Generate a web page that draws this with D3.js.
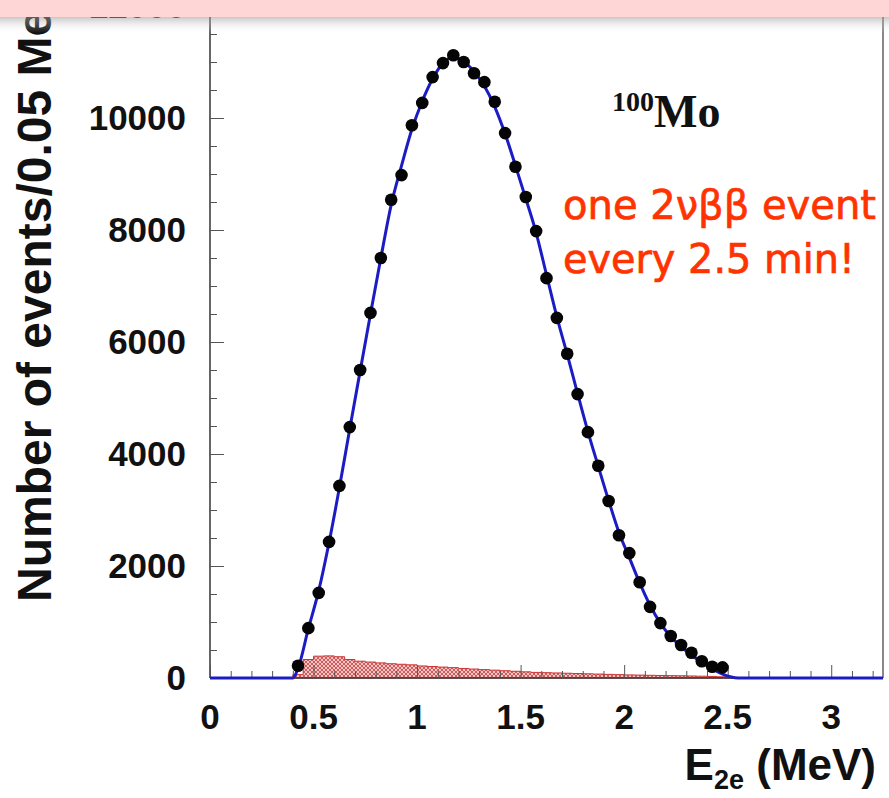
<!DOCTYPE html>
<html>
<head>
<meta charset="utf-8">
<script src="https://cdn.jsdelivr.net/npm/d3@7"></script>
<style>
  html, body { margin: 0; padding: 0; background: #fff; }
  svg { display: block; }
</style>
</head>
<body>
<svg id="chart" width="889" height="798"></svg>
<script>
// Measured 2e energy sum spectrum, 100Mo (0.05 MeV bins, bin centres in MeV)
const binE = [0.425,0.475,0.525,0.575,0.625,0.675,0.725,0.775,0.825,0.875,
              0.925,0.975,1.025,1.075,1.125,1.175,1.225,1.275,1.325,1.375,
              1.425,1.475,1.525,1.575,1.625,1.675,1.725,1.775,1.825,1.875,
              1.925,1.975,2.025,2.075,2.125,2.175,2.225,2.275,2.325,2.375,
              2.425,2.475];
const events = [220,890,1520,2430,3430,4480,5500,6520,7500,8540,
                8980,9870,10270,10730,10980,11120,11000,10800,10640,10290,
                9730,9130,8590,7980,7140,6430,5790,5070,4390,3790,
                3160,2550,2230,1710,1270,980,750,590,450,300,
                200,190];

// 2νββ simulation curve
const fitE = [0, 0.40, 0.425,0.475,0.525,0.575,0.625,0.675,0.725,0.775,0.825,0.875,
              0.925,0.975,1.025,1.075,1.125,1.175,1.225,1.275,1.325,1.375,
              1.425,1.475,1.525,1.575,1.625,1.675,1.725,1.775,1.825,1.875,
              1.925,1.975,2.025,2.075,2.125,2.175,2.225,2.275,2.325,2.375,
              2.425,2.475,2.55,2.62,3.25];
const fitN = [0, 0, 170,880,1560,2420,3400,4450,5480,6500,7500,8450,
              9150,9800,10300,10700,10980,11080,11010,10830,10570,10200,
              9720,9150,8560,7950,7200,6450,5780,5080,4400,3780,
              3170,2600,2150,1700,1300,980,740,560,410,280,
              160,70,0,0,0];

// Background histogram (bin low edges, counts)
const bkgLow = [0.40,0.45,0.50,0.55,0.60,0.65,0.70,0.75,0.80,0.85,0.90,0.95,
                1.00,1.05,1.10,1.15,1.20,1.25,1.30,1.35,1.40,1.45,1.50,1.55,
                1.60,1.65,1.70,1.75,1.80,1.85,1.90,1.95,2.00,2.05,2.10,2.15,
                2.20,2.25,2.30,2.35,2.40,2.45,2.50];
const bkgN = [60,330,390,395,380,330,300,285,270,255,245,235,
              215,205,195,185,170,160,150,140,130,120,110,100,
              95,90,85,80,75,70,65,60,55,52,48,45,
              42,40,36,32,28,22,10];

const xTicks = [0, 0.5, 1, 1.5, 2, 2.5, 3];
const xTickLabels = ["0", "0.5", "1", "1.5", "2", "2.5", "3"];
const yTicks = [0, 2000, 4000, 6000, 8000, 10000, 12000];
const yTickLabels = ["0", "2000", "4000", "6000", "8000", "10000", "12000"];

const svg = d3.select("#chart");
const W = 889, H = 798;
const left = 210, right = 883, bottom = 678;

const x = d3.scaleLinear().domain([0, 3.25]).range([left, right]);
const y = d3.scaleLinear().domain([0, 12000]).range([bottom, 6]);
const yTop = y(12800);

svg.append("rect").attr("width", W).attr("height", H).attr("fill", "#fff");

const defs = svg.append("defs");
const pat = defs.append("pattern")
  .attr("id", "hatch").attr("patternUnits", "userSpaceOnUse")
  .attr("width", 4).attr("height", 4);
pat.append("rect").attr("width", 4).attr("height", 4).attr("fill", "#f2c4c4");
pat.append("path").attr("d", "M0,0 L4,4 M4,0 L0,4")
  .attr("stroke", "#c85050").attr("stroke-width", 0.9);

const shadow = defs.append("linearGradient").attr("id", "shadow")
  .attr("x1", 0).attr("y1", 0).attr("x2", 0).attr("y2", 1);
shadow.append("stop").attr("offset", 0).attr("stop-color", "#999").attr("stop-opacity", 0.55);
shadow.append("stop").attr("offset", 1).attr("stop-color", "#fff").attr("stop-opacity", 0);

// background histogram
const bkgArea = d3.area()
  .x(d => x(d[0])).y0(y(0)).y1(d => y(d[1]))
  .curve(d3.curveStepAfter);
const bkgPts = bkgLow.map((e, i) => [e, bkgN[i]]);
bkgPts.push([bkgLow[bkgLow.length - 1] + 0.05, 0]);
svg.append("path").datum(bkgPts)
  .attr("d", bkgArea)
  .attr("fill", "url(#hatch)")
  .attr("stroke", "#cc3333").attr("stroke-width", 1);

// axes frame
svg.append("line").attr("x1", left).attr("x2", left).attr("y1", yTop).attr("y2", bottom)
  .attr("stroke", "#333").attr("stroke-width", 1.5);
svg.append("line").attr("x1", right).attr("x2", right).attr("y1", yTop).attr("y2", bottom)
  .attr("stroke", "#888").attr("stroke-width", 2);
svg.append("line").attr("x1", left).attr("x2", right).attr("y1", bottom).attr("y2", bottom)
  .attr("stroke", "#333").attr("stroke-width", 1.5);

// x ticks (inward)
const xAxis = d3.axisTop(x).tickValues(d3.range(0, 3.25, 0.1)).tickSize(7).tickFormat("");
const gx = svg.append("g").attr("transform", `translate(0,${bottom})`).call(xAxis);
gx.select(".domain").remove();
gx.selectAll(".tick line").attr("stroke", "#555").attr("stroke-width", 1)
  .attr("y2", d => Math.abs(Math.round(d * 10) % 5) === 0 ? -13 : -7);

// y ticks (inward)
const yAxis = d3.axisRight(y).tickValues(d3.range(0, 12001, 500)).tickSize(7).tickFormat("");
const gy = svg.append("g").attr("transform", `translate(${left},0)`).call(yAxis);
gy.select(".domain").remove();
gy.selectAll(".tick line").attr("stroke", "#555").attr("stroke-width", 1)
  .attr("x2", d => d % 2000 === 0 ? 14 : 7);

// tick labels
const tickFont = "'Liberation Sans', Arial, Helvetica, sans-serif";
svg.append("g").selectAll("text").data(xTicks).join("text")
  .attr("x", d => x(d)).attr("y", 729)
  .attr("text-anchor", "middle")
  .attr("font-family", tickFont).attr("font-weight", "bold").attr("font-size", 35)
  .attr("fill", "#111")
  .text((d, i) => xTickLabels[i]);
svg.append("g").selectAll("text").data(yTicks).join("text")
  .attr("x", 186).attr("y", d => y(d) + 12)
  .attr("text-anchor", "end")
  .attr("font-family", tickFont).attr("font-weight", "bold").attr("font-size", 35)
  .attr("fill", "#111")
  .text((d, i) => yTickLabels[i]);

// simulation curve
const fitLine = d3.line().x(d => x(d[0])).y(d => y(d[1])).curve(d3.curveMonotoneX);
svg.append("path").datum(fitE.map((e, i) => [e, fitN[i]]))
  .attr("d", fitLine).attr("fill", "none")
  .attr("stroke", "#1c1cc4").attr("stroke-width", 3);

// data points
svg.append("g").selectAll("circle").data(binE).join("circle")
  .attr("cx", d => x(d)).attr("cy", (d, i) => y(events[i]))
  .attr("r", 6.3).attr("fill", "#050505");

// axis titles
svg.append("text")
  .attr("transform", "translate(51,602) rotate(-90)")
  .attr("font-family", tickFont).attr("font-weight", "bold").attr("font-size", 48)
  .attr("fill", "#111")
  .text("Number of events/0.05 MeV");

const xt = svg.append("text")
  .attr("x", 876).attr("y", 780).attr("text-anchor", "end")
  .attr("font-family", tickFont).attr("font-weight", "bold").attr("font-size", 44)
  .attr("fill", "#111");
xt.append("tspan").text("E");
xt.append("tspan").attr("font-size", 27).attr("dy", 9).text("2e");
xt.append("tspan").attr("dy", -9).text(" (MeV)");

// isotope label
const iso = svg.append("text").attr("x", 612).attr("y", 127)
  .attr("font-family", "'Liberation Serif', 'Times New Roman', serif")
  .attr("font-weight", "bold").attr("fill", "#111");
iso.append("tspan").attr("font-size", 28).attr("dy", -16).text("100");
iso.append("tspan").attr("font-size", 46).attr("dy", 16).text("Mo");

// annotation
const noteFont = "'Comic Sans MS', 'DejaVu Sans', sans-serif";
svg.append("text").attr("x", 563).attr("y", 219)
  .attr("font-family", noteFont).attr("font-size", 40).attr("fill", "#ff3300")
  .attr("stroke", "#ff3300").attr("stroke-width", 0.7)
  .attr("textLength", 313).attr("lengthAdjust", "spacingAndGlyphs")
  .text("one 2νββ event");
svg.append("text").attr("x", 563).attr("y", 273)
  .attr("font-family", noteFont).attr("font-size", 40).attr("fill", "#ff3300")
  .attr("stroke", "#ff3300").attr("stroke-width", 0.7)
  .attr("textLength", 292).attr("lengthAdjust", "spacingAndGlyphs")
  .text("every 2.5 min!");

// header band
svg.append("rect").attr("x", 0).attr("y", 17).attr("width", W).attr("height", 16)
  .attr("fill", "url(#shadow)");
svg.append("rect").attr("x", 0).attr("y", 0).attr("width", W).attr("height", 17)
  .attr("fill", "#ffd6d6");
</script>
</body>
</html>
